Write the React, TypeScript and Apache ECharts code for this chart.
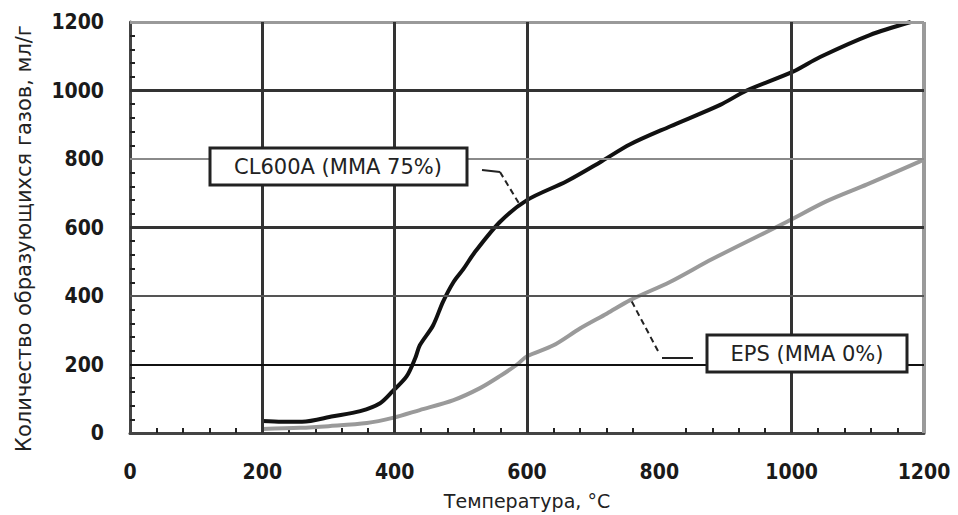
import React, { useEffect, useRef } from "react";
import * as echarts from "echarts";

// X axis (temperature, °C) and Y axis (gas amount, ml/g)
const xTicks = [0, 200, 400, 600, 800, 1000, 1200];
const yTicks = [0, 200, 400, 600, 800, 1000, 1200];

// CL600A (MMA 75%)
const clTemp = [200, 230, 260, 307, 348, 378, 397, 418, 431, 438, 458, 473, 489, 504, 520, 559, 600, 660, 710, 756, 816, 892, 932, 1002, 1043, 1118, 1180];
const clGas = [35, 33, 33, 49, 64, 87, 122, 165, 218, 256, 314, 383, 441, 479, 525, 616, 680, 735, 790, 843, 895, 958, 1000, 1055, 1098, 1162, 1200];

// EPS (MMA 0%)
const epsTemp = [200, 257, 300, 358, 397, 438, 489, 529, 559, 585, 600, 640, 680, 721, 756, 816, 880, 993, 1053, 1114, 1194, 1200];
const epsGas = [12, 15, 20, 29, 44, 67, 96, 131, 166, 200, 224, 256, 305, 349, 388, 441, 508, 617, 677, 726, 793, 800];

// Grid lines (values)
const vLines = [200, 400, 600, 1000];
const hLinesDark = [1000, 600];
const hLinesGray = [800];
const hLinesMid = [400];
const hLinesBlack = [200];
const borderVal = [1200];

const seriesNames = ["CL600A (MMA 75%)", "EPS (MMA 0%)"];
const xName = "Температура, °C";
const yName = "Количество образующихся газов, мл/г";

export default function App() {
  const ref = useRef<HTMLDivElement>(null);
  useEffect(() => {
    if (!ref.current) return;
    const chart = echarts.init(ref.current, null, { renderer: "svg" });
    const labelFont = {
      fontFamily: "DejaVu Sans Condensed",
      fontWeight: "bold" as const,
      fontSize: 21,
      color: "#1a1a1a",
      formatter: (v: number) => String(v),
    };
    const mk = (vals: number[], axis: "xAxis" | "yAxis", color: string, width: number) =>
      vals.map((v) => ({ [axis]: v, lineStyle: { color, width, type: "solid" } }));

    chart.setOption({
      animation: false,
      backgroundColor: "#ffffff",
      grid: { left: 130, right: 34, top: 22, bottom: 80, containLabel: false },
      xAxis: {
        type: "value",
        min: xTicks[0],
        max: xTicks[xTicks.length - 1],
        interval: 200,
        name: xName,
        nameLocation: "middle",
        nameGap: 58,
        nameTextStyle: { fontFamily: "DejaVu Sans", fontSize: 19, color: "#222" },
        axisLine: { show: true, onZero: false, lineStyle: { color: "#444", width: 3 } },
        axisTick: { show: true, inside: true, length: 1, lineStyle: { color: "#444", width: 1 } },
        minorTick: { show: true, splitNumber: 5, length: 5, lineStyle: { color: "#222", width: 2 } },
        axisLabel: { ...labelFont, margin: 28 },
        splitLine: { show: false },
      },
      yAxis: {
        type: "value",
        min: yTicks[0],
        max: yTicks[yTicks.length - 1],
        interval: 200,
        name: yName,
        nameLocation: "middle",
        nameGap: 96,
        nameTextStyle: { fontFamily: "DejaVu Sans", fontSize: 21, color: "#222", padding: [0, 22, 0, 0] },
        axisLine: { show: true, onZero: false, lineStyle: { color: "#444", width: 3 } },
        axisTick: { show: true, inside: true, length: 1, lineStyle: { color: "#444", width: 1 } },
        minorTick: { show: true, splitNumber: 5, length: 5, lineStyle: { color: "#222", width: 2 } },
        axisLabel: { ...labelFont, margin: 26 },
        splitLine: { show: false },
      },
      series: [
        {
          type: "line",
          name: "grid",
          data: [],
          z: 1,
          silent: true,
          markLine: {
            silent: true,
            symbol: ["none", "none"],
            label: { show: false },
            animation: false,
            data: [
              ...mk(borderVal, "yAxis", "#9a9a9a", 3),
              ...mk(borderVal, "xAxis", "#9a9a9a", 4),
              ...mk(vLines, "xAxis", "#333", 3),
              ...mk(hLinesDark, "yAxis", "#333", 3),
              ...mk(hLinesGray, "yAxis", "#8a8a8a", 2),
              ...mk(hLinesMid, "yAxis", "#555", 2),
              ...mk(hLinesBlack, "yAxis", "#111", 2),
            ],
          },
        },
        {
          type: "line",
          name: seriesNames[1],
          data: epsTemp.map((t, i) => [t, epsGas[i]]),
          showSymbol: false,
          smooth: 0.3,
          z: 3,
          lineStyle: { color: "#9a9a9a", width: 4 },
        },
        {
          type: "line",
          name: seriesNames[0],
          data: clTemp.map((t, i) => [t, clGas[i]]),
          showSymbol: false,
          smooth: 0.3,
          z: 4,
          lineStyle: { color: "#111", width: 4 },
        },
      ],
    });

    const a1 = chart.convertToPixel({ gridIndex: 0 }, [588, 670]) as number[];
    const a2 = chart.convertToPixel({ gridIndex: 0 }, [758, 385]) as number[];
    const boxStyle = { fill: "#fff", stroke: "#222", lineWidth: 3 };
    const textStyle = { fontFamily: "DejaVu Sans", fontSize: 21, fill: "#222", align: "center", verticalAlign: "middle" };
    chart.setOption({
      graphic: [
        { type: "rect", shape: { x: 210, y: 148, width: 257, height: 37 }, style: boxStyle, z: 10 },
        { type: "text", x: 338, y: 167, style: { ...textStyle, text: seriesNames[0] }, z: 11 },
        { type: "polyline", shape: { points: [[482, 170], [500, 172]] }, style: { stroke: "#222", lineWidth: 2, fill: null }, z: 10 },
        { type: "line", shape: { x1: 500, y1: 172, x2: a1[0], y2: a1[1] }, style: { stroke: "#222", lineWidth: 2, lineDash: [6, 4] }, z: 10 },
        { type: "rect", shape: { x: 707, y: 335, width: 200, height: 37 }, style: boxStyle, z: 10 },
        { type: "text", x: 807, y: 354, style: { ...textStyle, text: seriesNames[1] }, z: 11 },
        { type: "line", shape: { x1: 662, y1: 358, x2: 693, y2: 358 }, style: { stroke: "#222", lineWidth: 2 }, z: 10 },
        { type: "line", shape: { x1: 658, y1: 351, x2: a2[0], y2: a2[1] }, style: { stroke: "#222", lineWidth: 2, lineDash: [6, 4] }, z: 10 },
      ],
    });
    return () => chart.dispose();
  }, []);
  return <div ref={ref} style={{ position: "fixed", left: 0, top: 0, width: 958, height: 515 }} />;
}
